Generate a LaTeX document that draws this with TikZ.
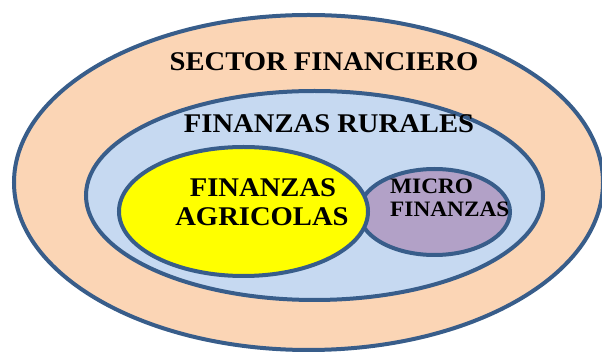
\documentclass[tikz,border=0pt]{standalone}
\usepackage{fontspec}
\setmainfont{Liberation Serif}[FakeStretch=1.06]
\usetikzlibrary{shapes.geometric}
\definecolor{peach}{HTML}{FBD5B5}
\definecolor{lightblue}{HTML}{C6D9F1}
\definecolor{lilac}{HTML}{B2A1C7}
\definecolor{ring}{HTML}{385D8A}
\definecolor{brightyellow}{HTML}{FFFF00}
\begin{document}
\begin{tikzpicture}[x=1pt,y=-1pt,
  zone/.style={ellipse, draw=ring, line width=4pt, inner sep=0pt},
  lbl/.style={font=\bfseries\fontsize{27}{29}\selectfont, text=black, inner sep=0pt, anchor=base},
  smalllbl/.style={lbl, font=\bfseries\fontsize{22}{23}\selectfont, anchor=base west}]
\useasboundingbox (0,0) rectangle (602,352);
\begin{scope}
\clip (0,0) rectangle (602,352);
\node[zone, fill=peach, minimum width=589pt, minimum height=335pt] (sector) at (308.5,182.5) {};
\end{scope}
\node[zone, fill=lightblue, minimum width=457pt, minimum height=209pt] (rural) at (314.5,195.5) {};
\node[zone, fill=lilac, minimum width=151pt, minimum height=86pt] (micro) at (434.5,212) {};
\node[zone, fill=brightyellow, minimum width=249pt, minimum height=129pt] (agri) at (243.5,211.5) {};
\node[lbl] (tsector) at (324,71) {SECTOR FINANCIERO};
\node[lbl] (trural) at (329,133) {FINANZAS RURALES};
\node[lbl] (tagri1) at (263,197) {FINANZAS};
\node[lbl] (tagri2) at (262,226) {AGRICOLAS};
\node[smalllbl] (tmicro1) at (390,194) {MICRO};
\node[smalllbl] (tmicro2) at (390,217) {FINANZAS};
\end{tikzpicture}
\end{document}
